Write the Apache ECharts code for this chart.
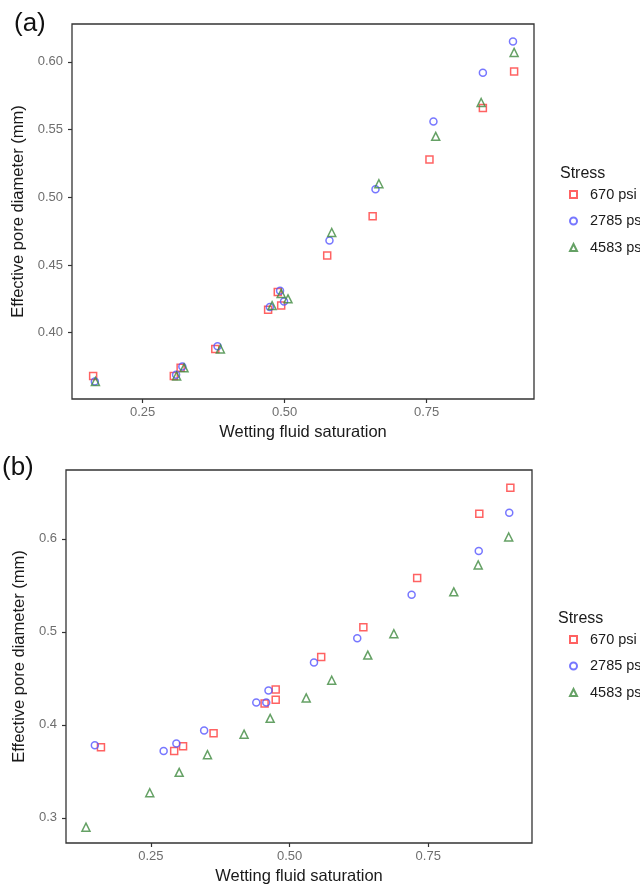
<!DOCTYPE html>
<html>
<head>
<meta charset="utf-8">
<script src="https://cdn.jsdelivr.net/npm/echarts@6/dist/echarts.min.js"></script>
<style>
  html, body { margin: 0; padding: 0; background: #fff; }
  #chart { width: 640px; height: 888px; }
</style>
</head>
<body>
<div id="chart"></div>
<script>
// Stress levels shown in both panels
const stressLevels = ['670 psi', '2785 psi', '4583 psi'];

// Panel (a): [wetting fluid saturation, effective pore diameter (mm)]
const a670 = [
  [0.163, 0.368], [0.305, 0.368], [0.317, 0.374], [0.378, 0.388],
  [0.471, 0.417], [0.488, 0.430], [0.494, 0.420], [0.575, 0.457],
  [0.655, 0.486], [0.755, 0.528], [0.849, 0.566], [0.904, 0.593]
];
const a2785 = [
  [0.166, 0.364], [0.309, 0.369], [0.320, 0.375], [0.382, 0.390],
  [0.474, 0.419], [0.492, 0.431], [0.499, 0.423], [0.579, 0.468],
  [0.660, 0.506], [0.762, 0.556], [0.849, 0.592], [0.902, 0.615]
];
const a4583 = [
  [0.167, 0.364], [0.310, 0.368], [0.323, 0.374], [0.387, 0.388],
  [0.478, 0.420], [0.494, 0.429], [0.506, 0.425], [0.583, 0.474],
  [0.666, 0.510], [0.766, 0.545], [0.846, 0.570], [0.904, 0.607]
];

// Panel (b)
const b670 = [
  [0.160, 0.376], [0.292, 0.372], [0.308, 0.377], [0.363, 0.391],
  [0.455, 0.423], [0.475, 0.427], [0.475, 0.438], [0.557, 0.473],
  [0.633, 0.505], [0.730, 0.558], [0.842, 0.627], [0.898, 0.655]
];
const b2785 = [
  [0.149, 0.378], [0.273, 0.372], [0.296, 0.380], [0.346, 0.394],
  [0.440, 0.424], [0.458, 0.424], [0.462, 0.437], [0.544, 0.467],
  [0.622, 0.493], [0.720, 0.540], [0.841, 0.587], [0.896, 0.628]
];
const b4583 = [
  [0.133, 0.290], [0.248, 0.327], [0.301, 0.349], [0.352, 0.368],
  [0.418, 0.390], [0.465, 0.407], [0.530, 0.429], [0.576, 0.448],
  [0.641, 0.475], [0.688, 0.498], [0.796, 0.543], [0.840, 0.572],
  [0.895, 0.602]
];

// Tick labels
const xTicks = [0.25, 0.50, 0.75];
const yTicksA = [0.40, 0.45, 0.50, 0.55, 0.60];
const yTicksB = [0.3, 0.4, 0.5, 0.6];

const FONT = '"Liberation Sans", Arial, sans-serif';
const colors = ['#ff3b3b', '#5555ff', '#3f8a3f'];
const symbols = ['rect', 'circle', 'triangle'];
const symbolSizes = [7, 7, 8];

function xAxisDef(gridIndex, min, max, gap) {
  return {
    type: 'value', gridIndex, min, max,
    name: 'Wetting fluid saturation', nameLocation: 'middle', nameGap: gap,
    nameTextStyle: { color: '#1a1a1a', fontSize: 16.5, fontFamily: FONT },
    axisLine: { show: false },
    splitLine: { show: false },
    axisTick: { show: true, length: 4, customValues: xTicks, lineStyle: { color: '#333', width: 1.2 } },
    axisLabel: { customValues: xTicks, color: '#6e6e6e', fontSize: 13, fontFamily: FONT, margin: 7,
      formatter: v => v.toFixed(2) }
  };
}
function yAxisDef(gridIndex, min, max, ticks, digits, gap) {
  return {
    type: 'value', gridIndex, min, max,
    name: 'Effective pore diameter (mm)', nameLocation: 'middle', nameGap: gap,
    nameTextStyle: { color: '#1a1a1a', fontSize: 16.5, fontFamily: FONT },
    axisLine: { show: false },
    splitLine: { show: false },
    axisTick: { show: true, length: 4, customValues: ticks, lineStyle: { color: '#333', width: 1.2 } },
    axisLabel: { customValues: ticks, color: '#6e6e6e', fontSize: 13, fontFamily: FONT, margin: 9,
      formatter: v => v.toFixed(digits) }
  };
}

function scatter(name, idx, data, gridIdx) {
  return {
    type: 'scatter', name, data,
    xAxisIndex: gridIdx, yAxisIndex: gridIdx,
    symbol: symbols[idx], symbolSize: symbolSizes[idx],
    itemStyle: { color: 'rgba(255,255,255,0)', borderColor: colors[idx], borderWidth: 1.5 },
    emphasis: { disabled: true }
  };
}

function legendDef(top) {
  return {
    orient: 'vertical', left: 569, top, padding: 0,
    itemWidth: 7, itemHeight: 7, itemGap: 11.5,
    data: stressLevels,
    selectedMode: false,
    textStyle: { color: '#1a1a1a', fontSize: 14.5, fontFamily: FONT, padding: [0, 0, 0, 8] }
  };
}

const chart = echarts.init(document.getElementById('chart'), null, { renderer: 'canvas' });
chart.setOption({
  backgroundColor: '#fff',
  animation: false,
  title: [
    { text: '(a)', left: 9, top: 6, textStyle: { fontSize: 26, fontWeight: 'normal', color: '#111', fontFamily: FONT } },
    { text: '(b)', left: -3, top: 450, textStyle: { fontSize: 26, fontWeight: 'normal', color: '#111', fontFamily: FONT } },
    { text: 'Stress', left: 555, top: 161, textStyle: { fontSize: 16, fontWeight: 'normal', color: '#1a1a1a', fontFamily: FONT } },
    { text: 'Stress', left: 553, top: 606, textStyle: { fontSize: 16, fontWeight: 'normal', color: '#1a1a1a', fontFamily: FONT } }
  ],
  legend: [legendDef(187), legendDef(632)],
  grid: [
    { left: 72, top: 24, width: 462, height: 375, show: true, borderColor: '#333', borderWidth: 1.3, backgroundColor: '#fff' },
    { left: 66, top: 470, width: 466, height: 373, show: true, borderColor: '#333', borderWidth: 1.3, backgroundColor: '#fff' }
  ],
  xAxis: [
    xAxisDef(0, 0.1258, 0.939, 25),
    xAxisDef(1, 0.097, 0.937, 25)
  ],
  yAxis: [
    yAxisDef(0, 0.351, 0.628, yTicksA, 2, 44),
    yAxisDef(1, 0.273, 0.674, yTicksB, 1, 35)
  ],
  series: [
    scatter(stressLevels[0], 0, a670, 0),
    scatter(stressLevels[1], 1, a2785, 0),
    scatter(stressLevels[2], 2, a4583, 0),
    scatter(stressLevels[0], 0, b670, 1),
    scatter(stressLevels[1], 1, b2785, 1),
    scatter(stressLevels[2], 2, b4583, 1)
  ]
});
</script>
</body>
</html>
